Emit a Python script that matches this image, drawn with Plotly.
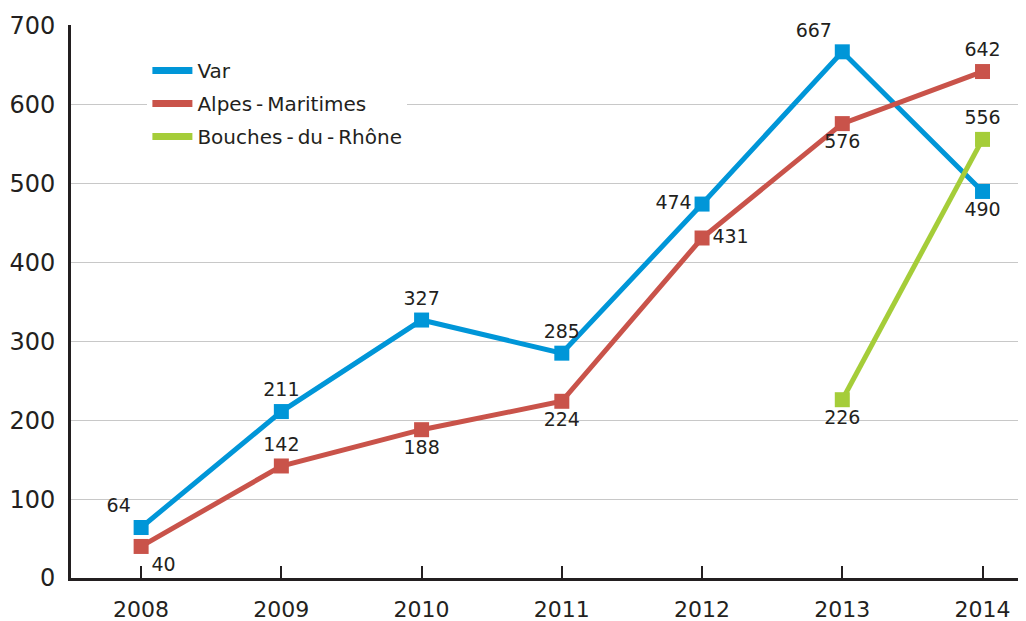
import plotly.graph_objects as go

# Data
years = ["2008", "2009", "2010", "2011", "2012", "2013", "2014"]
var_vals = [64, 211, 327, 285, 474, 667, 490]
alpes_vals = [40, 142, 188, 224, 431, 576, 642]
bouches_years = ["2013", "2014"]
bouches_vals = [226, 556]

BLUE = "#0096d8"
RED = "#c9534a"
GREEN = "#a5cd39"
DARK = "#231f20"
FONT = "DejaVu Sans, Arial, sans-serif"

var_pos = ["top left", "top center", "top center", "top center",
           "middle left", "top left", "bottom center"]
alpes_pos = ["bottom right", "top center", "bottom center", "bottom center",
             "middle right", "bottom center", "top center"]
bouches_pos = ["bottom center", "top center"]

fig = go.Figure()


def add_series(x, y, color, pos):
    fig.add_trace(go.Scatter(
        x=x, y=y, mode="lines+markers+text",
        line=dict(color=color, width=5),
        marker=dict(symbol="square", size=15, color=color),
        text=[str(v) for v in y], textposition=pos,
        textfont=dict(size=19, color=DARK, family=FONT),
        showlegend=False, cliponaxis=False,
    ))


add_series(years, var_vals, BLUE, var_pos)
add_series(years, alpes_vals, RED, alpes_pos)
add_series(bouches_years, bouches_vals, GREEN, bouches_pos)

# legend-only entries (line swatch, no marker)
legend_items = [("Var", BLUE),
                ("Alpes\u2009-\u2009Maritimes", RED),
                ("Bouches\u2009-\u2009du\u2009-\u2009Rhône", GREEN)]
for name, color in legend_items:
    fig.add_trace(go.Scatter(x=[None], y=[None], mode="lines", name=name,
                             legendgroup=name,
                             line=dict(color=color, width=7)))

# page body has an 8px margin, so the figure is 8px smaller than the window
fig.update_layout(
    width=1018, height=613,
    margin=dict(l=63, r=0, t=17, b=43),
    paper_bgcolor="white", plot_bgcolor="white",
    font=dict(family=FONT, color=DARK, size=22),
    legend=dict(x=0.08, y=0.953, xanchor="left", yanchor="top",
                bgcolor="white", font=dict(size=20, color=DARK),
                tracegroupgap=4, itemwidth=40),
    xaxis=dict(type="category", range=[-0.5, 6.31], automargin=False,
               showline=True, linecolor=DARK, linewidth=3,
               ticks="inside", ticklen=12, tickwidth=1.5, tickcolor=DARK,
               showgrid=False, tickfont=dict(size=22), ticklabelstandoff=10),
    yaxis=dict(range=[0, 701], tickvals=[0, 100, 200, 300, 400, 500, 600, 700],
               automargin=False,
               showline=True, linecolor=DARK, linewidth=3,
               showgrid=True, gridcolor="#c8c8c8", gridwidth=1.2,
               zeroline=False, ticks="", tickfont=dict(size=24),
               ticklabelstandoff=8),
)

fig.write_html("out.html")
